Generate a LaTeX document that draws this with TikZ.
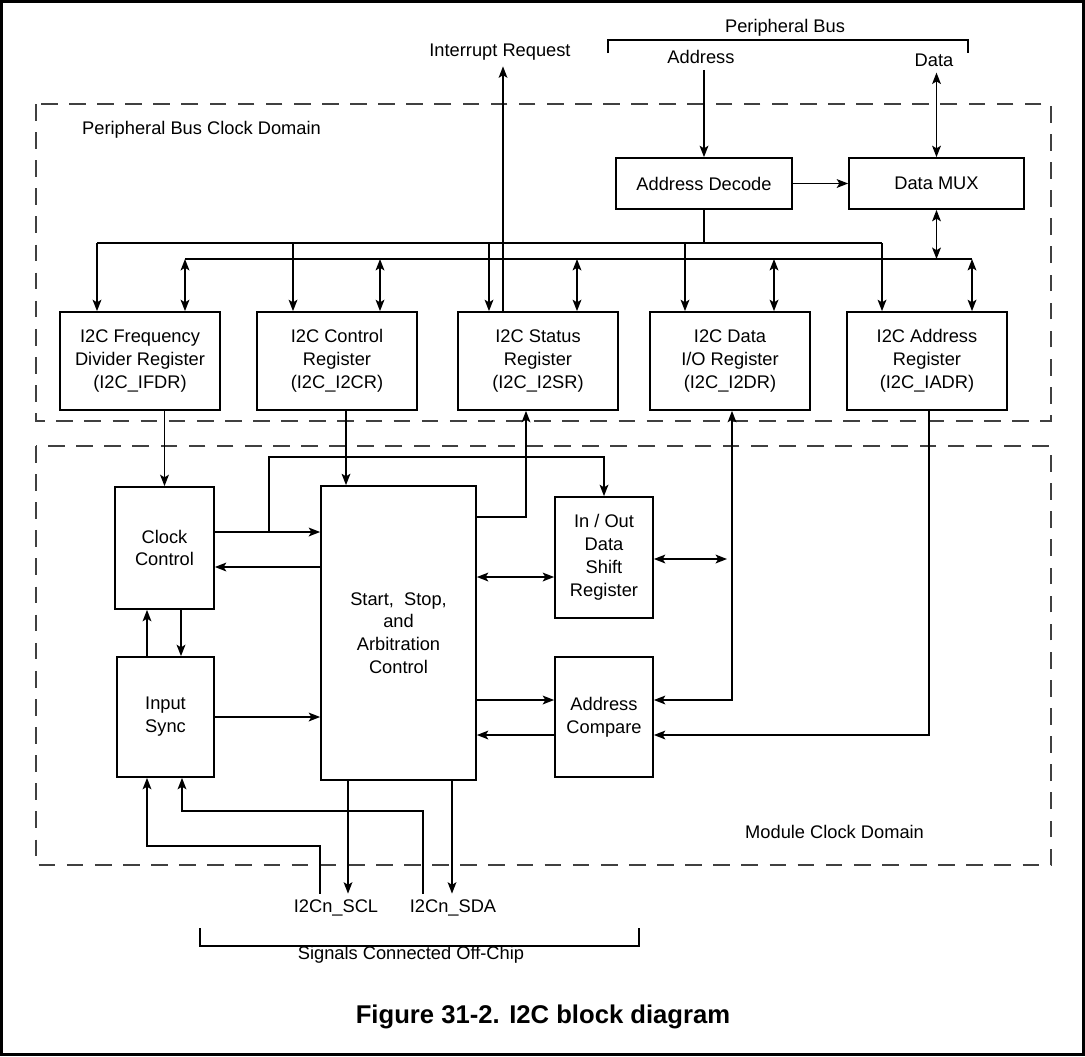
\documentclass[tikz,border=0pt]{standalone}
\usepackage{fontspec}
\setmainfont{Liberation Sans}
\usepackage{tikz}
\usetikzlibrary{arrows.meta}

\begin{document}
\begin{tikzpicture}[x=0.02cm, y=-0.02cm,
  font=\fontsize{10.4}{13}\selectfont,
  blk/.style={draw, line width=1pt, inner sep=2pt, align=center},
  regbox/.style={blk, minimum width=3.2cm, minimum height=1.96cm},
  sig/.style={-{Stealth[length=6.5pt, width=5pt, inset=1.5pt]}, line width=0.85pt},
  bidir/.style={{Stealth[length=6.5pt, width=5pt, inset=1.5pt]}-{Stealth[length=6.5pt, width=5pt, inset=1.5pt]}, line width=0.85pt},
  bus/.style={line width=0.85pt},
  clkdomain/.style={dash pattern=on 9.5pt off 6.5pt, line width=1.1pt, draw=black!75}]
  \useasboundingbox (0,0) rectangle (1085,1056);
  \draw[line width=1.6pt] (1.5,1.5) rectangle (1083.5,1054.5);

  % Clock domains
  \draw[clkdomain] (36,104) rectangle (1051,421);
  \draw[clkdomain] (36,446) rectangle (1051,865);
  \node[anchor=west] (pbdom) at (76,130) {Peripheral Bus Clock Domain};
  \node[anchor=west] (mdom) at (739,832) {Module Clock Domain};

  % Peripheral bus side
  \node (pbus) at (785,28) {Peripheral Bus};
  \draw[bus] (608,53) -- (608,40) -- (968,40) -- (968,53);
  \node (addr) at (701,57) {Address};
  \node (data) at (934,60) {Data};
  \node (irq) at (500,52) {Interrupt Request};

  \node[blk, minimum width=3.52cm, minimum height=1.02cm] (adec) at (704,183.5) {Address Decode};
  \node[blk, minimum width=3.5cm, minimum height=1.02cm] (dmux) at (936.5,183.5) {Data MUX};

  \draw[sig] (addr.south -| adec.north) -- (adec.north);
  \draw[bidir] (data.south -| dmux.north) -- (dmux.north);
  \draw[sig] (adec.east) -- (dmux.west);

  % Registers
  \node[regbox] (ifdr) at (140,361) {I2C Frequency\\Divider Register\\(I2C\_IFDR)};
  \node[regbox] (i2cr) at (337,361) {I2C Control\\Register\\(I2C\_I2CR)};
  \node[regbox] (i2sr) at (538,361) {I2C Status\\Register\\(I2C\_I2SR)};
  \node[regbox] (i2dr) at (730,361) {I2C Data\\I/O Register\\(I2C\_I2DR)};
  \node[regbox] (iadr) at (927,361) {I2C Address\\Register\\(I2C\_IADR)};

  % Address and data buses
  \draw[bus] (adec.south) -- (adec.south |- 0,243);
  \draw[bus] (97,243) -- (882,243);
  \draw[bus] (185,259) -- (972,259);
  \draw[bidir] (dmux.south) -- (dmux.south |- 0,259);
  \foreach \r/\a/\d in {ifdr/97/185, i2cr/293/380, i2sr/489/577, i2dr/685/774, iadr/882/972} {
    \draw[sig] (\a,243) -- (\r.north -| \a,0);
    \draw[bidir] (\d,259) -- (\r.north -| \d,0);
  }
  \draw[sig] (i2sr.north -| 503,0) -- (irq.south -| 503,0);

  % Module blocks
  \node[blk, minimum width=1.98cm, minimum height=2.44cm] (clk) at (164.5,548) {Clock\\Control};
  \node[blk, minimum width=1.94cm, minimum height=2.4cm] (isync) at (165.5,717) {Input\\Sync};
  \node[blk, minimum width=3.1cm, minimum height=5.88cm] (ssa) at (398.5,633) {Start,\ \ Stop,\\and\\Arbitration\\Control};
  \node[blk, minimum width=1.96cm, minimum height=2.42cm] (shift) at (604,557.5) {In / Out\\Data\\Shift\\Register};
  \node[blk, minimum width=1.96cm, minimum height=2.4cm] (acmp) at (604,717) {Address\\Compare};

  \draw[sig] (clk.north |- ifdr.south) -- (clk.north);
  \draw[sig] (i2cr.south -| 346,0) -- (ssa.north -| 346,0);
  \draw[sig] (clk.east |- 0,532) -- (ssa.west |- 0,532);
  \coordinate (ckbr) at (269,532);
  \draw[sig] (ckbr) -- (269,457) -| (shift.north);
  \draw[sig] (ssa.west |- 0,567) -- (clk.east |- 0,567);
  \draw[sig] (clk.south -| 181,0) -- (isync.north -| 181,0);
  \draw[sig] (isync.north -| 147,0) -- (clk.south -| 147,0);
  \draw[sig] (isync.east) -- (ssa.west |- isync.east);
  \draw[sig] (ssa.east |- 0,517) -| (i2sr.south -| 526,0);
  \draw[bidir] (ssa.east |- 0,577) -- (shift.west |- 0,577);
  \coordinate (drtap) at (727,559);
  \draw[bidir] (shift.east |- 0,559) -- (drtap);
  \draw[bidir] (i2dr.south -| 732,0) |- (acmp.east |- 0,700);
  \draw[sig] (iadr.south -| 929,0) |- (acmp.east |- 0,735);
  \draw[sig] (ssa.east |- 0,700) -- (acmp.west |- 0,700);
  \draw[sig] (acmp.west |- 0,735) -- (ssa.east |- 0,735);

  % Off-chip signals
  \node (scl) at (336,908) {I2Cn\_SCL};
  \node (sda) at (453,908) {I2Cn\_SDA};
  \draw[sig] (ssa.south -| 348,0) -- (scl.north -| 348,0);
  \draw[sig] (ssa.south -| 452,0) -- (sda.north -| 452,0);
  \draw[sig] (scl.north -| 320,0) |- (147,846) -- (isync.south -| 147,0);
  \draw[sig] (sda.north -| 423,0) |- (182,811) -- (isync.south -| 182,0);
  \draw[bus] (200,928) -- (200,946) -- (639,946) -- (639,928);
  \node (offchip) at (411,955) {Signals Connected Off-Chip};

  \node[font=\fontsize{14.6}{17}\selectfont\bfseries] (cap) at (543,1017) {Figure 31-2. I2C block diagram};
\end{tikzpicture}
\end{document}
